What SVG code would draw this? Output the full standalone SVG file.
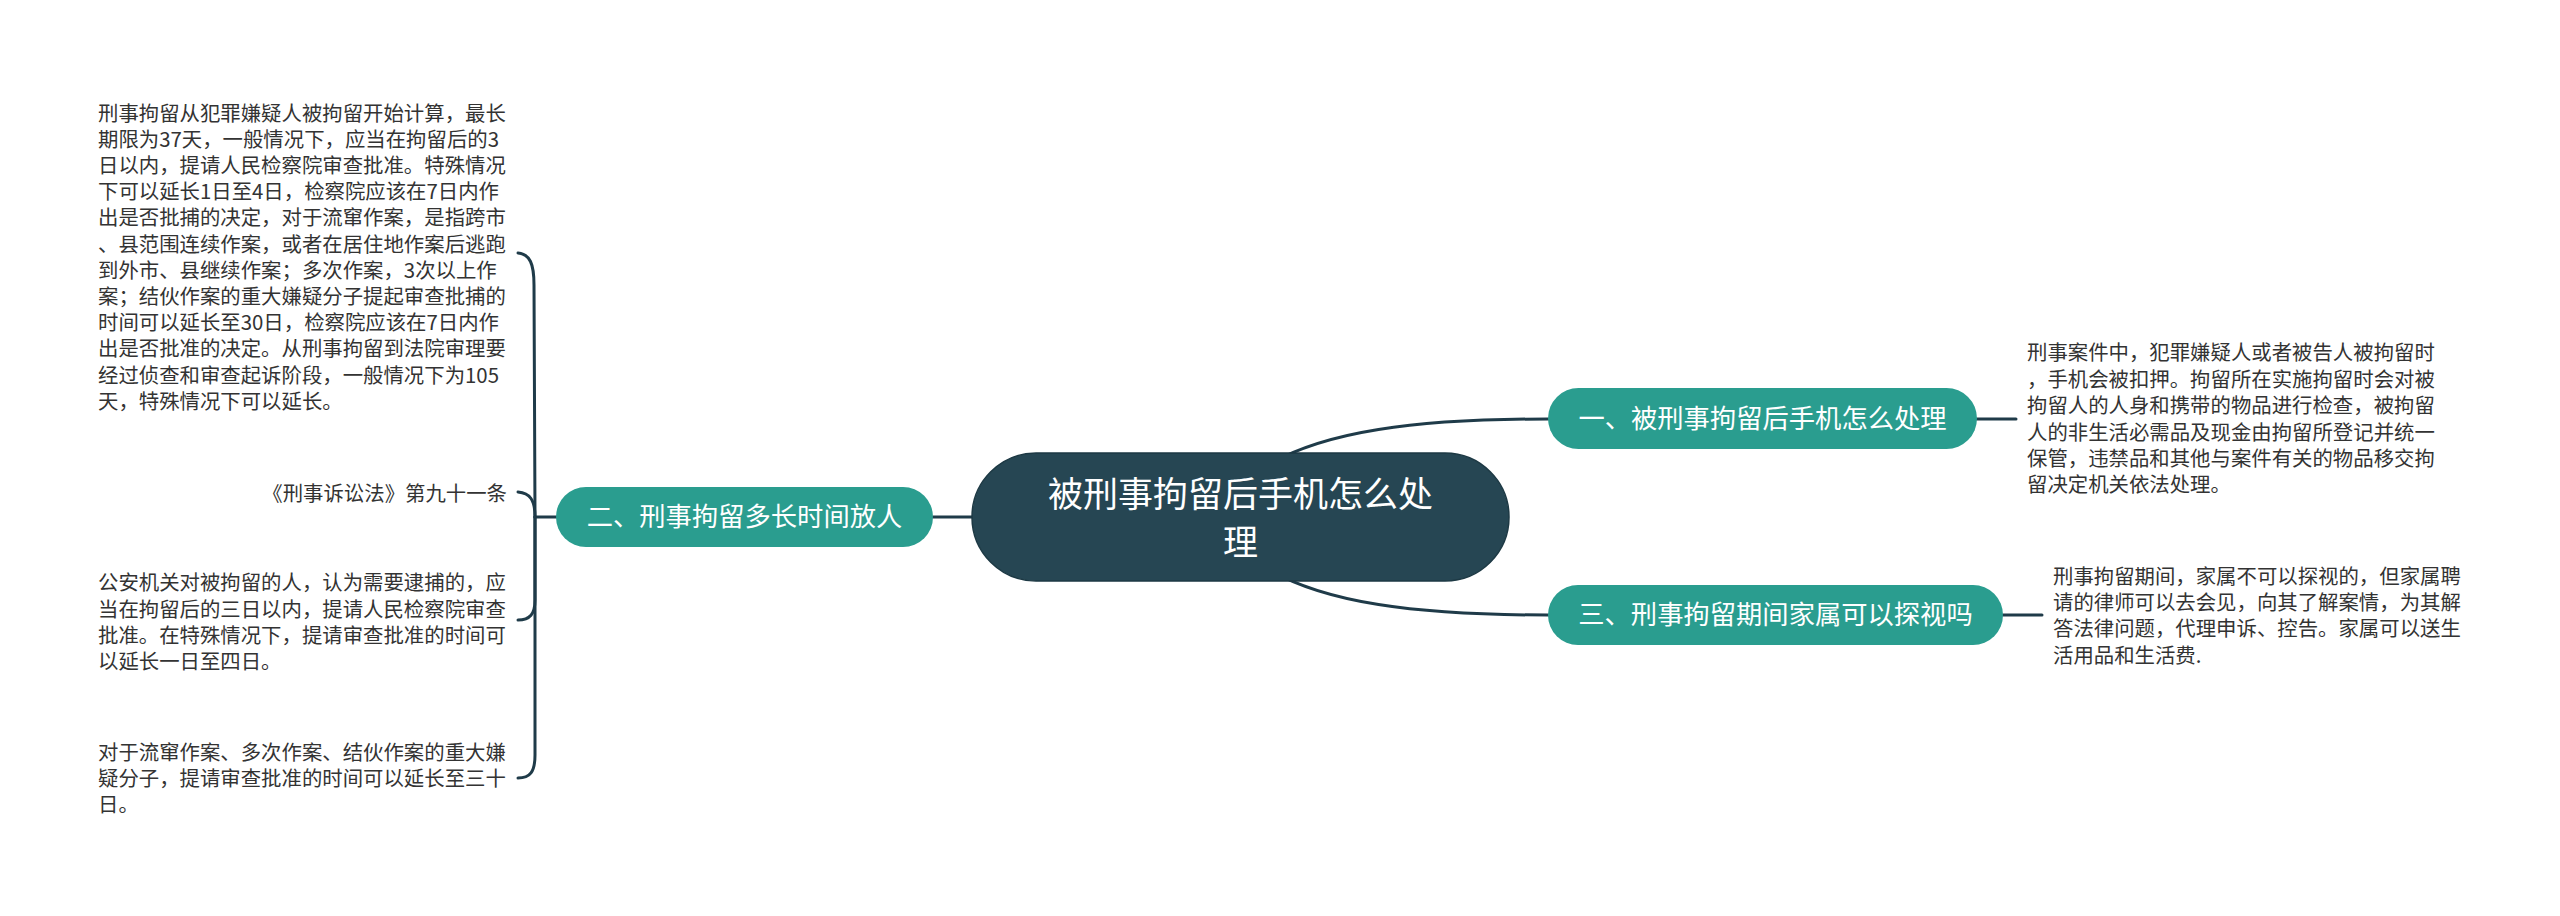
<svg xmlns="http://www.w3.org/2000/svg" width="2560" height="916" viewBox="0 0 2560 916">
<style>
.conn{fill:none;stroke:#1f3b49;stroke-width:3;stroke-linecap:round}
.root{fill:#264653;stroke:#1d3944;stroke-width:1.5}
.br{fill:#2a9d8f}
.rt{font-family:"Noto Sans CJK SC","Noto Sans",sans-serif;font-size:35px;fill:#ffffff;text-anchor:middle}
.bt{font-family:"Noto Sans CJK SC","Noto Sans",sans-serif;font-size:26.3px;fill:#ffffff;text-anchor:middle}
.lt{font-family:"Noto Sans CJK SC","Noto Sans",sans-serif;font-size:20.4px;fill:#333333}
</style>
<rect width="2560" height="916" fill="#ffffff"/>
<g id="connectors">
<path class="conn" d="M1260 470 C1320 430 1420 419 1548 419"/>
<path class="conn" d="M1260 564 C1320 604 1420 615 1548 615"/>
<path class="conn" d="M933 517 H980"/>
<path class="conn" d="M1977 419 H2016"/>
<path class="conn" d="M2003 615 H2042"/>
<path class="conn" d="M556 517 H535"/>
<path class="conn" d="M518 253 C530 254 534 264 534 285 L535 517"/>
<path class="conn" d="M518 492 C530 493 535 500 535 517"/>
<path class="conn" d="M535 517 L535 600 C535 614 530 620 518 620"/>
<path class="conn" d="M535 517 L535 755 C535 772 530 778 518 778"/>
</g>
<g id="root">
<rect class="root" x="972" y="453" width="537" height="128" rx="64"/>
<text class="rt" x="1240.5" y="507">被刑事拘留后手机怎么处</text>
<text class="rt" x="1240.5" y="555">理</text>
</g>
<g id="branch1">
<rect class="br" x="1548" y="388" width="429" height="61" rx="30.5"/>
<text class="bt" x="1762.5" y="428">一、被刑事拘留后手机怎么处理</text>
</g>
<g id="branch2">
<rect class="br" x="556" y="487" width="377" height="60" rx="30"/>
<text class="bt" x="744.5" y="526">二、刑事拘留多长时间放人</text>
</g>
<g id="branch3">
<rect class="br" x="1548" y="585" width="455" height="60" rx="30"/>
<text class="bt" x="1775.5" y="624">三、刑事拘留期间家属可以探视吗</text>
</g>
<g id="leaf1-1">
<text class="lt" x="98" y="120.5">刑事拘留从犯罪嫌疑人被拘留开始计算，最长</text>
<text class="lt" x="98" y="146.7">期限为37天，一般情况下，应当在拘留后的3</text>
<text class="lt" x="98" y="172.9">日以内，提请人民检察院审查批准。特殊情况</text>
<text class="lt" x="98" y="199.1">下可以延长1日至4日，检察院应该在7日内作</text>
<text class="lt" x="98" y="225.3">出是否批捕的决定，对于流窜作案，是指跨市</text>
<text class="lt" x="98" y="251.5">、县范围连续作案，或者在居住地作案后逃跑</text>
<text class="lt" x="98" y="277.7">到外市、县继续作案；多次作案，3次以上作</text>
<text class="lt" x="98" y="303.9">案；结伙作案的重大嫌疑分子提起审查批捕的</text>
<text class="lt" x="98" y="330.1">时间可以延长至30日，检察院应该在7日内作</text>
<text class="lt" x="98" y="356.3">出是否批准的决定。从刑事拘留到法院审理要</text>
<text class="lt" x="98" y="382.5">经过侦查和审查起诉阶段，一般情况下为105</text>
<text class="lt" x="98" y="408.7">天，特殊情况下可以延长。</text>
</g>
<g id="leaf1-2">
<text class="lt" x="507" y="501" text-anchor="end">《刑事诉讼法》第九十一条</text>
</g>
<g id="leaf1-3">
<text class="lt" x="98" y="590.3">公安机关对被拘留的人，认为需要逮捕的，应</text>
<text class="lt" x="98" y="616.5">当在拘留后的三日以内，提请人民检察院审查</text>
<text class="lt" x="98" y="642.7">批准。在特殊情况下，提请审查批准的时间可</text>
<text class="lt" x="98" y="668.9">以延长一日至四日。</text>
</g>
<g id="leaf1-4">
<text class="lt" x="98" y="760">对于流窜作案、多次作案、结伙作案的重大嫌</text>
<text class="lt" x="98" y="786.2">疑分子，提请审查批准的时间可以延长至三十</text>
<text class="lt" x="98" y="812.4">日。</text>
</g>
<g id="leaf2-1">
<text class="lt" x="2027" y="360.3">刑事案件中，犯罪嫌疑人或者被告人被拘留时</text>
<text class="lt" x="2027" y="386.7">，手机会被扣押。拘留所在实施拘留时会对被</text>
<text class="lt" x="2027" y="413.1">拘留人的人身和携带的物品进行检查，被拘留</text>
<text class="lt" x="2027" y="439.5">人的非生活必需品及现金由拘留所登记并统一</text>
<text class="lt" x="2027" y="465.9">保管，违禁品和其他与案件有关的物品移交拘</text>
<text class="lt" x="2027" y="492.3">留决定机关依法处理。</text>
</g>
<g id="leaf3-1">
<text class="lt" x="2053" y="583.7">刑事拘留期间，家属不可以探视的，但家属聘</text>
<text class="lt" x="2053" y="610">请的律师可以去会见，向其了解案情，为其解</text>
<text class="lt" x="2053" y="636.3">答法律问题，代理申诉、控告。家属可以送生</text>
<text class="lt" x="2053" y="662.6">活用品和生活费.</text>
</g>
</svg>
